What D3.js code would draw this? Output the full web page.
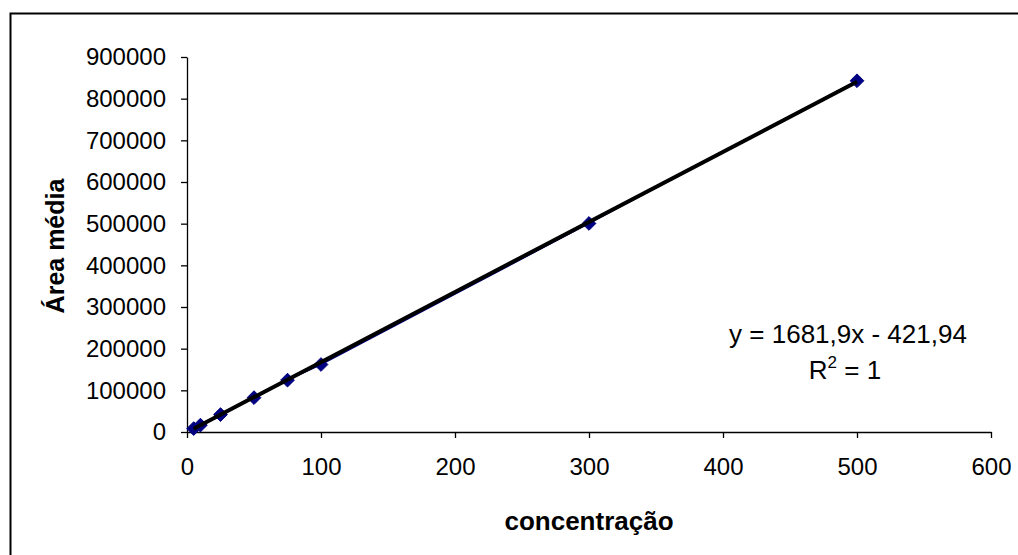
<!DOCTYPE html>
<html>
<head>
<meta charset="utf-8">
<script src="https://cdn.jsdelivr.net/npm/d3@7"></script>
<style>
  html, body { margin: 0; padding: 0; background: #fff; }
  svg { display: block; font-family: "Liberation Sans", Arial, sans-serif; }
</style>
</head>
<body>
<svg id="chart" width="1018" height="555"></svg>
<script>
// Calibration data: concentration vs. mean peak area
const concentracao = [5, 10, 25, 50, 75, 100, 300, 500];
const areaMedia = [8200, 16500, 41800, 82500, 124500, 162000, 500500, 843000];

// Linear fit reported on the chart
const slope = 1681.9;
const intercept = -421.94;
const equationLabel = "y = 1681,9x - 421,94";

const xTicks = [0, 100, 200, 300, 400, 500, 600];
const yTicks = [0, 100000, 200000, 300000, 400000, 500000, 600000, 700000, 800000, 900000];

const FONT = "'Liberation Sans', Arial, sans-serif";
const svg = d3.select("#chart");

// Chart frame
svg.append("rect")
  .attr("x", 10.5).attr("y", 13.5)
  .attr("width", 1030).attr("height", 560)
  .attr("fill", "none").attr("stroke", "#000").attr("stroke-width", 2);

const x = d3.scaleLinear().domain([0, 600]).range([187, 991]);
const y = d3.scaleLinear().domain([0, 900000]).range([432, 57]);

const fmtInt = d3.format("d");

// Axes
const xAxis = svg.append("g")
  .attr("transform", `translate(0,${y(0)})`)
  .call(d3.axisBottom(x).tickValues(xTicks).tickFormat(fmtInt).tickSize(6).tickSizeOuter(0).tickPadding(20));
const yAxis = svg.append("g")
  .attr("transform", `translate(${x(0)},0)`)
  .call(d3.axisLeft(y).tickValues(yTicks).tickFormat(fmtInt).tickSize(6).tickSizeOuter(0).tickPadding(15));

[xAxis, yAxis].forEach(g => {
  g.attr("font-size", null).attr("font-family", null);
  g.select(".domain").attr("stroke", "#000").attr("stroke-width", 1.3);
  g.selectAll(".tick line").attr("stroke", "#000").attr("stroke-width", 1.3);
  g.selectAll(".tick text")
    .attr("fill", "#000")
    .style("font-size", "24px")
    .style("font-family", FONT);
});

// Connecting line through the measured points
const line = d3.line().x((d, i) => x(concentracao[i])).y(d => y(d));
svg.append("path")
  .datum(areaMedia)
  .attr("d", line)
  .attr("fill", "none")
  .attr("stroke", "#000080")
  .attr("stroke-width", 1.5);

// Diamond markers
const diamond = d3.symbol().type(d3.symbolDiamond2).size(120);
svg.append("g").selectAll("path")
  .data(areaMedia)
  .join("path")
  .attr("d", diamond)
  .attr("transform", (d, i) => `translate(${x(concentracao[i])},${y(d)})`)
  .attr("fill", "#000080")
  .attr("stroke", "#000080")
  .attr("stroke-width", 1);

// Linear trendline, drawn over the series
const xFit = d3.extent(concentracao);
svg.append("line")
  .attr("x1", x(xFit[0])).attr("y1", y(slope * xFit[0] + intercept))
  .attr("x2", x(xFit[1])).attr("y2", y(slope * xFit[1] + intercept))
  .attr("stroke", "#000").attr("stroke-width", 4);

// Axis titles
svg.append("text")
  .attr("x", 589).attr("y", 530)
  .attr("text-anchor", "middle")
  .style("font-size", "26px").style("font-weight", "bold").style("font-family", FONT)
  .text("concentração");

svg.append("text")
  .attr("transform", "translate(64,246) rotate(-90)")
  .attr("text-anchor", "middle")
  .style("font-size", "25px").style("font-weight", "bold").style("font-family", FONT)
  .text("Área média");

// Regression equation and R²
svg.append("text")
  .attr("x", 848).attr("y", 343)
  .attr("text-anchor", "middle")
  .style("font-size", "26px").style("font-family", FONT)
  .text(equationLabel);

const r2 = svg.append("text")
  .attr("x", 845).attr("y", 379)
  .attr("text-anchor", "middle")
  .style("font-size", "26px").style("font-family", FONT);
r2.append("tspan").text("R");
r2.append("tspan").attr("dy", -11).style("font-size", "17px").text("2");
r2.append("tspan").attr("dy", 11).text(" = 1");
</script>
</body>
</html>
